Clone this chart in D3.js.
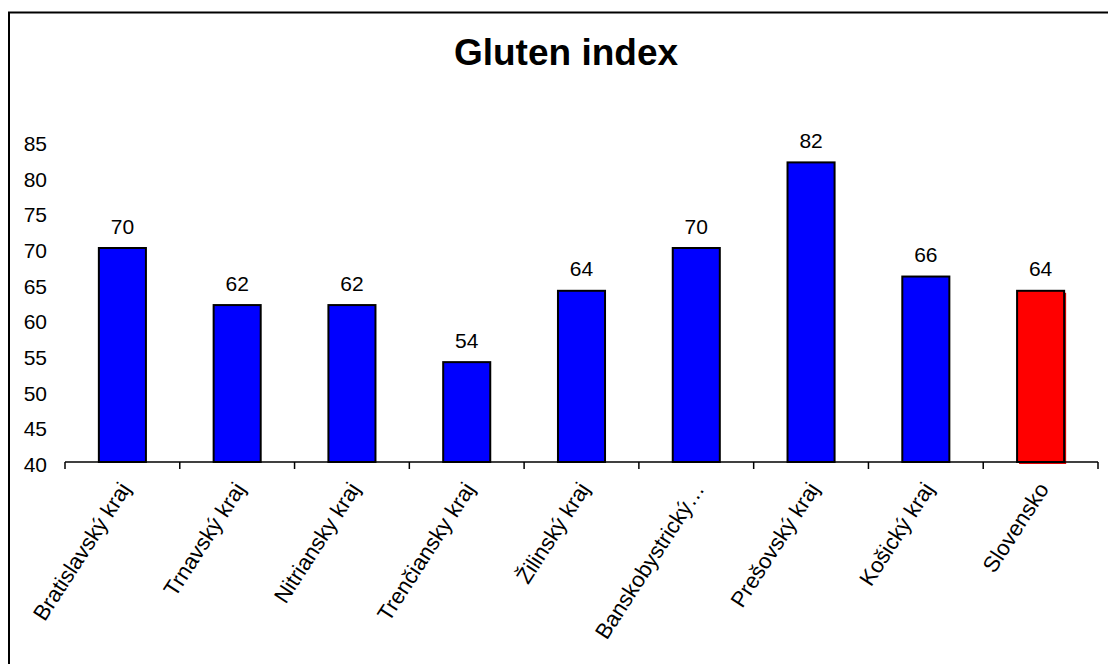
<!DOCTYPE html>
<html>
<head>
<meta charset="utf-8">
<script src="https://cdn.jsdelivr.net/npm/d3@7"></script>
<style>
  html, body { margin: 0; padding: 0; background: #fff; }
  svg { display: block; font-family: "Liberation Sans", Arial, sans-serif; }
</style>
</head>
<body>
<svg id="chart" width="1108" height="664"></svg>
<script>
// Gluten index by region
const categories = [
  "Bratislavský kraj", "Trnavský kraj", "Nitriansky kraj", "Trenčiansky kraj",
  "Žilinský kraj", "Banskobystrický…", "Prešovský kraj", "Košický kraj", "Slovensko"
];
const values = [70, 62, 62, 54, 64, 70, 82, 66, 64];
const barColors = ["#0000ff", "#0000ff", "#0000ff", "#0000ff", "#0000ff", "#0000ff", "#0000ff", "#0000ff", "#ff0000"];
const yTicks = [40, 45, 50, 55, 60, 65, 70, 75, 80, 85];
const title = "Gluten index";

const svg = d3.select("#chart");

// outer frame
svg.append("rect")
  .attr("x", 9).attr("y", 12.5)
  .attr("width", 1120).attr("height", 680)
  .attr("fill", "none").attr("stroke", "#000").attr("stroke-width", 2);

const left = 65, right = 1098, baseY = 462, topY = 141;

const x = d3.scaleBand()
  .domain(categories)
  .range([left, right])
  .paddingInner(0.59)
  .paddingOuter(0.295);

const y = d3.scaleLinear().domain([40, 85]).range([baseY, topY]);

const step = x.step();

// title
svg.append("text")
  .attr("x", 566).attr("y", 65)
  .attr("text-anchor", "middle")
  .attr("font-size", 37).attr("font-weight", "bold")
  .text(title);

// y tick labels (no axis line)
svg.append("g").selectAll("text")
  .data(yTicks).join("text")
  .attr("x", 47)
  .attr("y", d => y(d) + 10)
  .attr("text-anchor", "end")
  .attr("font-size", 21)
  .text(d => d);

const rows = categories.map((c, i) => ({ c, v: values[i], col: barColors[i] }));

// bars
const bars = svg.append("g");
bars.selectAll("rect.shadow")
  .data(rows.filter(d => d.col === "#ff0000"))
  .join("rect")
  .attr("class", "shadow")
  .attr("x", d => x(d.c) + 2)
  .attr("y", d => y(d.v) + 2)
  .attr("width", x.bandwidth())
  .attr("height", d => baseY - y(d.v))
  .attr("fill", "#e00000");

bars.selectAll("rect.bar")
  .data(rows)
  .join("rect")
  .attr("class", "bar")
  .attr("x", d => x(d.c))
  .attr("y", d => y(d.v))
  .attr("width", x.bandwidth())
  .attr("height", d => baseY - y(d.v))
  .attr("fill", d => d.col)
  .attr("stroke", "#000")
  .attr("stroke-width", 2);

// value labels
svg.append("g").selectAll("text")
  .data(rows)
  .join("text")
  .attr("x", d => x(d.c) + x.bandwidth() / 2)
  .attr("y", d => y(d.v) - 14.5)
  .attr("text-anchor", "middle")
  .attr("font-size", 21)
  .text(d => d.v);

// x axis line with ticks between categories
const axis = svg.append("g");
axis.append("line")
  .attr("x1", left).attr("x2", right)
  .attr("y1", baseY).attr("y2", baseY)
  .attr("stroke", "#000").attr("stroke-width", 1.5);
axis.selectAll("line.tick")
  .data(d3.range(categories.length + 1))
  .join("line")
  .attr("class", "tick")
  .attr("x1", i => left + i * step).attr("x2", i => left + i * step)
  .attr("y1", baseY).attr("y2", baseY + 7)
  .attr("stroke", "#000").attr("stroke-width", 1.5);

// rotated category labels
axis.selectAll("text")
  .data(categories)
  .join("text")
  .attr("transform", d => `translate(${x(d) + x.bandwidth() / 2 + 9},${baseY + 27}) rotate(-57)`)
  .attr("text-anchor", "end")
  .attr("font-size", 22)
  .text(d => d);
</script>
</body>
</html>
